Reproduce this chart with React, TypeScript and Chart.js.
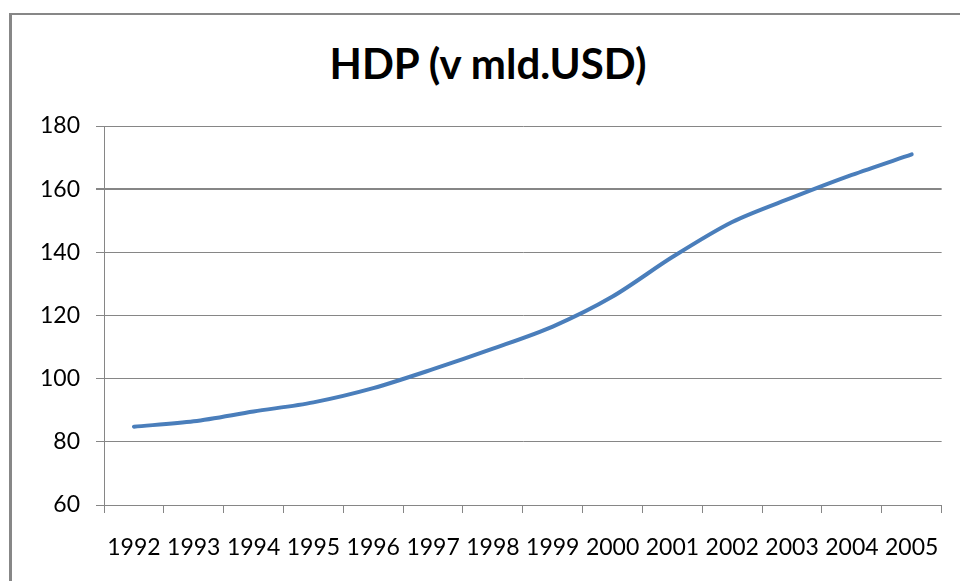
import React, { useEffect, useRef } from "react";
import { Chart, registerables } from "chart.js";

Chart.register(...registerables);

const years = ["1992","1993","1994","1995","1996","1997","1998","1999","2000","2001","2002","2003","2004","2005"];
const gdp = [84.8, 86.5, 89.6, 92.5, 97, 103, 109.5, 116.5, 126, 138.5, 149.6, 157.3, 164.5, 171];
const titleText = "HDP (v mld.USD)";
const yMin = 60;
const yMax = 180;
const yStep = 20;

export default function App() {
  const ref = useRef<HTMLCanvasElement>(null);
  useEffect(() => {
    if (!ref.current) return;
    const grey = "#868686";
    const chart = new Chart(ref.current, {
      type: "line",
      data: {
        labels: years,
        datasets: [
          {
            data: gdp,
            borderColor: "#4A7EBB",
            borderWidth: 4,
            pointRadius: 0,
            tension: 0.3,
            borderCapStyle: "round",
            fill: false,
          },
        ],
      },
      options: {
        responsive: false,
        animation: false,
        layout: { padding: { left: 0, right: 17, top: 126, bottom: 0 } },
        plugins: {
          legend: { display: false },
          tooltip: { enabled: false },
          title: { display: false },
        },
        scales: {
          x: {
            offset: true,
            grid: {
              offset: true,
              drawOnChartArea: false,
              drawTicks: true,
              tickLength: 8,
              color: grey,
            },
            border: { display: true, color: grey, width: 1 },
            ticks: {
              color: "#000",
              font: { family: "Lato", size: 23 },
              padding: 21,
              maxRotation: 0,
              autoSkip: false,
            },
            afterFit: (s: any) => { s.height = 76; },
          },
          y: {
            min: yMin,
            max: yMax,
            grid: {
              color: grey,
              tickLength: 8,
              lineWidth: (c: any) => (c.tick && c.tick.value === 160 ? 2 : 1),
            },
            border: { display: true, color: grey, width: 1 },
            ticks: {
              stepSize: yStep,
              color: "#000",
              font: { family: "Lato", size: 23 },
              padding: 16,
            },
            afterFit: (s: any) => { s.width = 104; },
          },
        },
      },
    });
    return () => chart.destroy();
  }, []);
  return (
    <div style={{ position: "fixed", left: 0, top: 0, width: 960, height: 581, background: "#fff", overflow: "hidden" }}>
      <div
        style={{
          position: "absolute",
          left: 9,
          top: 13,
          width: 1200,
          height: 1200,
          borderLeft: "3px solid #878787",
          borderTop: "2px solid #878787",
        }}
      />
      <div
        style={{
          position: "absolute",
          left: 0,
          top: 42,
          width: 976,
          textAlign: "center",
          fontFamily: "Lato",
          fontWeight: "bold",
          fontSize: 42,
          lineHeight: 1,
          color: "#000",
          whiteSpace: "nowrap",
        }}
      >
        {titleText}
      </div>
      <canvas ref={ref} width={960} height={581} style={{ position: "absolute", left: 0, top: 0 }} />
    </div>
  );
}
